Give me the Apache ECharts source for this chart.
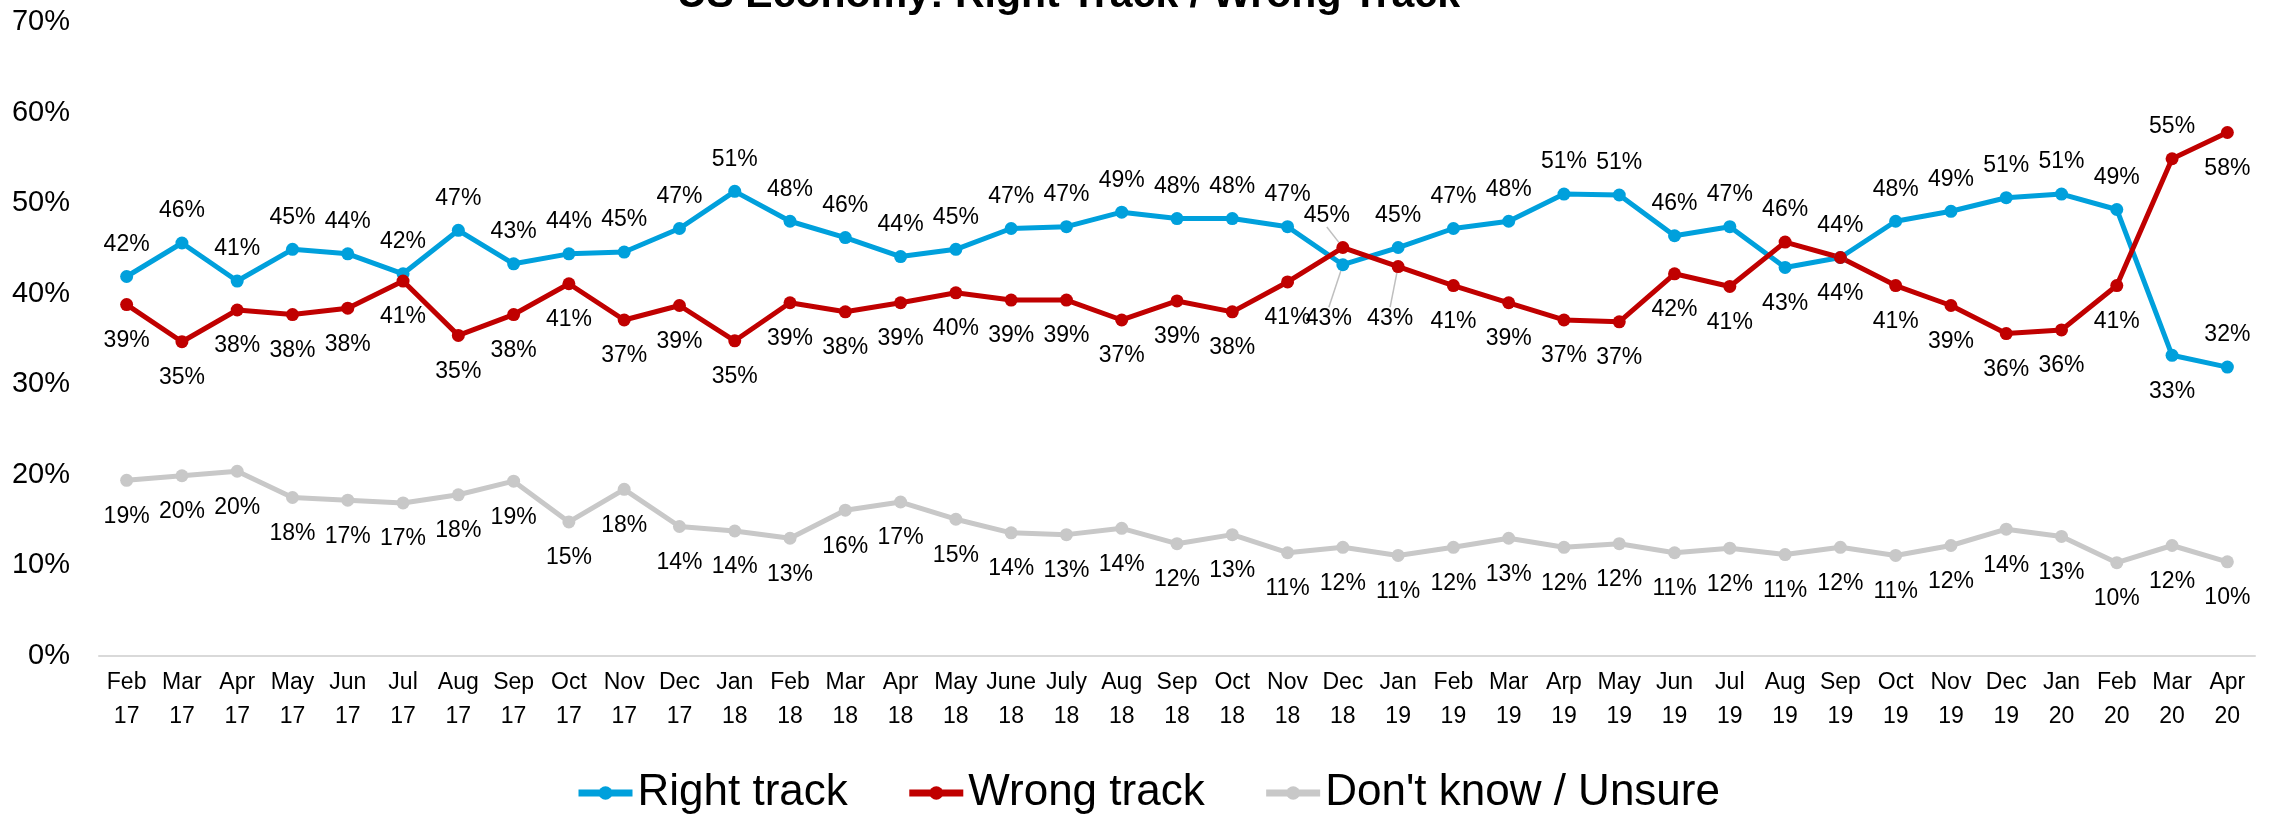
<!DOCTYPE html>
<html>
<head>
<meta charset="utf-8">
<script src="https://cdn.jsdelivr.net/npm/echarts@6/dist/echarts.min.js"></script>
<style>
  html, body { margin: 0; padding: 0; background: #fff; }
  #chart { width: 2282px; height: 814px; }
</style>
</head>
<body>
<div id="chart"></div>
<script>
var months = ['Feb\n17','Mar\n17','Apr\n17','May\n17','Jun\n17','Jul\n17','Aug\n17','Sep\n17','Oct\n17','Nov\n17','Dec\n17',
  'Jan\n18','Feb\n18','Mar\n18','Apr\n18','May\n18','June\n18','July\n18','Aug\n18','Sep\n18','Oct\n18','Nov\n18','Dec\n18',
  'Jan\n19','Feb\n19','Mar\n19','Arp\n19','May\n19','Jun\n19','Jul\n19','Aug\n19','Sep\n19','Oct\n19','Nov\n19','Dec\n19',
  'Jan\n20','Feb\n20','Mar\n20','Apr\n20'];

var rightTrack = [41.9,45.6,41.4,44.9,44.4,42.2,47.0,43.3,44.4,44.6,47.2,
  51.3,48.0,46.2,44.1,44.9,47.2,47.4,49.0,48.3,48.3,47.4,43.2,
  45.1,47.2,48.0,51.0,50.9,46.4,47.4,42.9,44.0,48.0,49.1,50.6,
  51.0,49.3,33.2,31.9];

var wrongTrack = [38.8,34.7,38.2,37.7,38.4,41.4,35.4,37.7,41.1,37.1,38.7,
  34.8,39.0,38.0,39.0,40.1,39.3,39.3,37.1,39.2,38.0,41.3,45.1,
  43.0,40.9,39.0,37.1,36.9,42.2,40.8,45.7,44.0,40.9,38.7,35.6,
  36.0,40.9,54.9,57.8];

var unsure = [19.4,19.9,20.4,17.5,17.2,16.9,17.8,19.3,14.8,18.4,14.3,
  13.8,13.0,16.1,17.0,15.1,13.6,13.4,14.1,12.4,13.4,11.4,12.0,
  11.1,12.0,13.0,12.0,12.4,11.4,11.9,11.2,12.0,11.1,12.2,14.0,
  13.2,10.3,12.2,10.4];

// label placement exceptions (index -> position / shift)
var rightLabelBelow = [22, 30, 31, 37];
var wrongLabelAbove = [22, 30, 31, 37];
var labelShift = {
  '0-37': [21, 0],
  '1-30': [28, 4],
  '1-37': [19, 0]
};
var leaderShift = {
  '0-22': [-14, 18],
  '1-22': [-16, 0],
  '1-23': [-8, 16]
};

var font = 'Liberation Sans, Arial, sans-serif';

function pct(p) { return Math.round(p.value) + '%'; }

function buildData(seriesIdx, values, flipList, defPos) {
  return values.map(function (v, i) {
    var item = { value: v };
    var lbl = {};
    if (flipList.indexOf(i) >= 0) {
      lbl.position = defPos === 'top' ? 'bottom' : 'top';
      lbl.distance = lbl.position === 'top' ? 14 : 18;
    }
    var s = labelShift[seriesIdx + '-' + i];
    if (s) lbl.offset = s;
    if (leaderShift[seriesIdx + '-' + i]) {
      item.labelLine = { show: true };
    }
    item.label = lbl;
    return item;
  });
}

function lineSeries(name, idx, values, color, pos, flip) {
  return {
    name: name,
    type: 'line',
    data: buildData(idx, values, flip, pos),
    symbol: 'circle',
    symbolSize: 13,
    lineStyle: { color: color, width: 5 },
    itemStyle: { color: color },
    label: {
      show: true,
      position: pos,
      distance: pos === 'top' ? 14 : 18,
      formatter: pct,
      color: '#000',
      fontFamily: font,
      fontSize: 23
    },
    labelLine: { show: false, lineStyle: { color: '#BFBFBF', width: 1.5 } },
    labelLayout: function (p) {
      var d = leaderShift[p.seriesIndex + '-' + p.dataIndex];
      if (d) return { dx: d[0], dy: d[1] };
      return {};
    },
    emphasis: { disabled: true },
    animation: false
  };
}

var chart = echarts.init(document.getElementById('chart'));
chart.setOption({
  backgroundColor: '#fff',
  title: {
    text: 'US Economy: Right Track / Wrong Track',
    left: 672,
    top: -30,
    textStyle: { fontFamily: font, fontWeight: 'bold', fontSize: 41, color: '#000' }
  },
  legend: {
    left: 570,
    top: 766,
    itemWidth: 54,
    itemHeight: 17,
    itemGap: 58,
    lineStyle: { width: 7 },
    textStyle: { fontFamily: font, fontSize: 44, color: '#000' },
    data: ['Right track', 'Wrong track', "Don't know / Unsure"]
  },
  grid: { left: 99, right: 27, top: 22, bottom: 158 },
  xAxis: {
    type: 'category',
    data: months,
    boundaryGap: true,
    axisLine: { lineStyle: { color: '#D9D9D9', width: 2 } },
    axisTick: { show: false },
    axisLabel: {
      interval: 0,
      margin: 10,
      color: '#000',
      fontFamily: font,
      fontSize: 23,
      lineHeight: 34
    }
  },
  yAxis: {
    type: 'value',
    min: 0,
    max: 70,
    interval: 10,
    axisLine: { show: false },
    axisTick: { show: false },
    splitLine: { show: false },
    axisLabel: {
      formatter: '{value}%',
      margin: 29,
      color: '#000',
      fontFamily: font,
      fontSize: 29
    }
  },
  series: [
    lineSeries('Right track', 0, rightTrack, '#00A0DC', 'top', rightLabelBelow),
    lineSeries('Wrong track', 1, wrongTrack, '#C00000', 'bottom', wrongLabelAbove),
    lineSeries("Don't know / Unsure", 2, unsure, '#C8C8C8', 'bottom', [])
  ]
});
</script>
</body>
</html>
